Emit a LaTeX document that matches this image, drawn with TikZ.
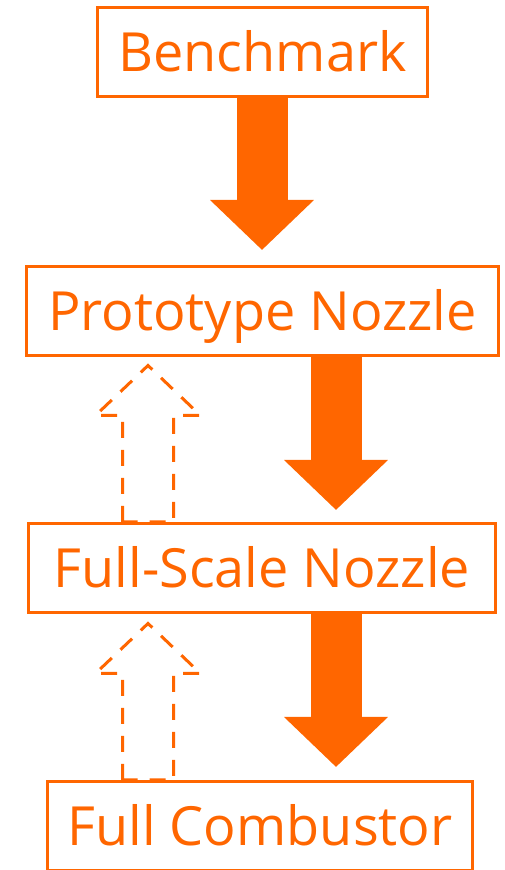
\documentclass[tikz,border=0pt]{standalone}
\usepackage{fontspec}
\setmainfont{Open Sans}
\usetikzlibrary{arrows.meta}
\definecolor{georange}{RGB}{255,102,0}
\tikzset{
  stage/.style={draw=georange,line width=3pt,text=georange,inner sep=0pt,
    minimum height=89pt,text height=39pt,text depth=0pt,
    font=\fontsize{54}{58}\selectfont},
  bigarrow/.style={georange,line width=51pt,
    -{Triangle[length=50pt,width=101pt]}},
  backarrow/.style={georange,line width=3pt,dash pattern=on 16pt off 12pt}
}
\begin{document}
\begin{tikzpicture}[x=1pt,y=1pt]
  \useasboundingbox (0,0) rectangle (504,870);

  \node[stage,minimum width=330pt] (bench) at (262.5,818) {Benchmark};
  \node[stage,minimum width=472pt] (proto) at (262.5,559) {Prototype Nozzle};
  \node[stage,minimum width=467pt] (fullscale) at (262,302) {Full-Scale Nozzle};
  \node[stage,minimum width=425pt] (combustor) at (260,44) {Full Combustor};

  % forward steps
  \coordinate (t1) at (262,620);
  \coordinate (t2) at (336,360);
  \coordinate (t3) at (336,103);
  \draw[bigarrow] (bench.south -| t1) -- (t1);
  \draw[bigarrow] (proto.south -| t2) -- (t2);
  \draw[bigarrow] (fullscale.south -| t3) -- (t3);

  % feedback steps (hollow, dashed)
  \coordinate (b1) at (fullscale.north -| 148,0);
  \coordinate (b2) at (combustor.north -| 148,0);
  \foreach \b in {b1,b2}
    \draw[backarrow] ([xshift=-25.5pt]\b) -- ++(0,106.5) -- ++(-27,0)
      -- ++(52.5,50) -- ++(52.5,-50) -- ++(-27,0) -- ++(0,-106.5) -- cycle;
\end{tikzpicture}
\end{document}
